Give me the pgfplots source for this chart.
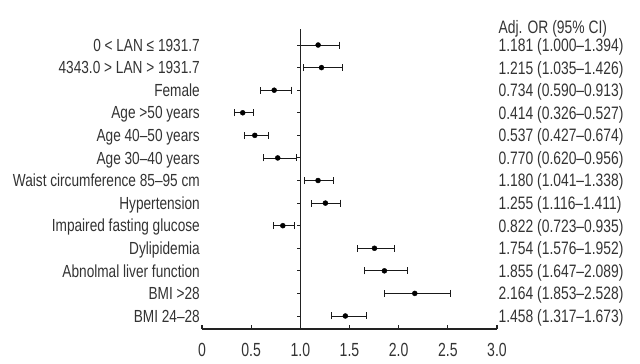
\documentclass[border=0pt]{standalone}
\usepackage{pgfplots}
\pgfplotsset{compat=1.18}
\usepackage{pgfplotstable}
\usepackage{fontspec}
\setmainfont{Liberation Sans}[FakeStretch=0.78]
\newfontfamily\rfont{Liberation Sans}[FakeStretch=0.77]
\newfontfamily\tfont{Liberation Sans}[FakeStretch=0.74]
\definecolor{txt}{HTML}{333333}
\definecolor{axc}{HTML}{222222}
\pgfplotstableread{
y   or    ep    em
13  1.181 0.213 0.181
12  1.215 0.211 0.180
11  0.734 0.179 0.144
10  0.414 0.113 0.088
9   0.537 0.137 0.110
8   0.770 0.186 0.150
7   1.180 0.158 0.139
6   1.255 0.156 0.139
5   0.822 0.113 0.099
4   1.754 0.198 0.178
3   1.855 0.234 0.208
2   2.164 0.364 0.311
1   1.458 0.215 0.141
}\ortable
\begin{document}
\begin{tikzpicture}[x=1pt,y=1pt]
\begin{axis}[
  at={(0,0)}, anchor=south west,
  scale only axis, width=295pt, height=300pt,
  xmin=0, xmax=3, ymin=0.424, ymax=13.71,
  axis line style={draw=none},
  xtick={0,0.5,1,1.5,2,2.5,3},
  xticklabels={0,0.5,1.0,1.5,2.0,2.5,3.0},
  xtick align=inside, xtick pos=bottom,
  x tick style={line width=1.1pt, axc},
  major tick length=4pt,
  ytick={1,...,13},
  yticklabels={BMI 24–28, BMI >28, Abnolmal liver function, Dylipidemia, Impaired fasting glucose, Hypertension, Waist circumference 85–95 cm, Age 30–40 years, Age 40–50 years, Age >50 years, Female, 4343.0 > LAN > 1931.7, 0 < LAN ≤ 1931.7},
  ytick pos=left,
  y tick style={draw=none},
  yticklabel style={font=\fontsize{17.5pt}{20pt}\selectfont, text=txt, anchor=east, inner sep=0pt, text height=12.4pt, text depth=0pt, xshift=-2pt},
  xticklabel style={font=\tfont\fontsize{19pt}{22pt}\selectfont, text=txt, anchor=north, inner sep=0pt, text height=13.6pt, text depth=0pt, yshift=-14pt},
  clip=false,
]
\addplot[only marks, mark=*, mark size=2.5pt, black,
  error bars/.cd, x dir=both, x explicit, error mark=|,
  error bar style={line width=0.8pt, black!90},
  error mark options={black!90, mark size=3.5pt, line width=0.8pt}]
  table[x=or, y=y, x error plus=ep, x error minus=em]{\ortable};
\draw[line width=1.2pt, axc] (axis cs:0,0.424) -- (axis cs:3,0.424);
\draw[line width=1pt, axc] (axis cs:1,0.424) -- (axis cs:1,13.71);
\pgfplotsinvokeforeach{1,...,13}{\draw[line width=0.9pt, axc] (axis cs:1,#1) -- ([xshift=-3.5pt]axis cs:1,#1);}
\begin{scope}[every node/.style={anchor=west, inner sep=0pt, text=txt, text height=12.9pt, text depth=0pt, font=\rfont\fontsize{18pt}{20pt}\selectfont}]
\node at (axis cs:3.015,13.8) {Adj. OR (95\% CI)};
\node at (axis cs:3.015,13) {1.181 (1.000–1.394)};
\node at (axis cs:3.015,12) {1.215 (1.035–1.426)};
\node at (axis cs:3.015,11) {0.734 (0.590–0.913)};
\node at (axis cs:3.015,10) {0.414 (0.326–0.527)};
\node at (axis cs:3.015,9) {0.537 (0.427–0.674)};
\node at (axis cs:3.015,8) {0.770 (0.620–0.956)};
\node at (axis cs:3.015,7) {1.180 (1.041–1.338)};
\node at (axis cs:3.015,6) {1.255 (1.116–1.411)};
\node at (axis cs:3.015,5) {0.822 (0.723–0.935)};
\node at (axis cs:3.015,4) {1.754 (1.576–1.952)};
\node at (axis cs:3.015,3) {1.855 (1.647–2.089)};
\node at (axis cs:3.015,2) {2.164 (1.853–2.528)};
\node at (axis cs:3.015,1) {1.458 (1.317–1.673)};
\end{scope}
\end{axis}
\pgfresetboundingbox
\path (-202,-35) rectangle (438,329);
\end{tikzpicture}
\end{document}
